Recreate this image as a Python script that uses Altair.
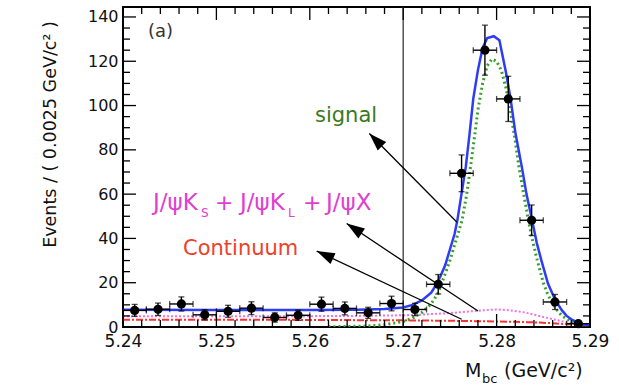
import math
import altair as alt
import pandas as pd

# ---------------- data ----------------
bin_x = [5.24125, 5.24375, 5.24625, 5.24875, 5.25125, 5.25375, 5.25625, 5.25875,
         5.26125, 5.26375, 5.26625, 5.26875, 5.27125, 5.27375, 5.27625, 5.27875,
         5.28125, 5.28375, 5.28625, 5.28875]
counts = [7.5, 8.0, 10.4, 5.5, 7.1, 8.5, 4.3, 5.3, 10.3, 8.4, 6.4, 10.6, 7.9, 19.3,
          69.4, 125.0, 103.0, 48.2, 11.3, 1.5]
errors = [2.7, 2.8, 3.2, 2.3, 2.7, 2.9, 2.1, 2.3, 3.2, 2.9, 2.5, 3.3, 2.8, 4.4,
          8.3, 11.3, 10.2, 6.9, 3.4, 1.2]
half_bin = 0.00125

total_x = [5.240, 5.250, 5.260, 5.265, 5.268, 5.270, 5.271, 5.272, 5.273, 5.2736,
           5.274, 5.2745, 5.275, 5.2755, 5.2758, 5.2762, 5.2767, 5.2771, 5.2775,
           5.278, 5.2785, 5.279, 5.2797, 5.2803, 5.281, 5.2815, 5.282, 5.2827,
           5.2832, 5.2838, 5.2843, 5.2848, 5.2855, 5.2863, 5.287, 5.2875, 5.288,
           5.2885, 5.289, 5.290]
total_y = [7.8, 7.7, 7.7, 7.8, 8.1, 8.8, 10.0, 12.0, 15.5, 19.6,
           23.0, 28.0, 35.0, 42.0, 48.2, 59.0, 72.3, 87.0, 103.0,
           116.0, 126.0, 130.5, 131.3, 129.5, 115.0, 103.0, 88.0, 72.3,
           60.0, 48.2, 38.0, 30.0, 19.6, 12.0, 7.5, 5.0, 3.5,
           2.4, 1.5, 0.5]

signal_x = [5.262, 5.266, 5.268, 5.270, 5.271, 5.272, 5.273, 5.2737, 5.2741, 5.2745,
            5.275, 5.2755, 5.2763, 5.2768, 5.2772, 5.2777, 5.278, 5.2785, 5.279,
            5.2795, 5.280, 5.2805, 5.281, 5.2815, 5.282, 5.2824, 5.2829, 5.2834,
            5.2838, 5.2843, 5.285, 5.2855, 5.286, 5.2865, 5.287, 5.288, 5.289, 5.290]
signal_y = [0.1, 0.4, 1.0, 2.5, 4.0, 6.5, 10.5, 15.0, 19.6, 24.0,
            30.0, 37.0, 48.2, 60.0, 72.0, 88.0, 98.0, 110.0, 118.0,
            121.0, 120.0, 116.0, 108.0, 97.0, 84.0, 72.0, 60.0, 48.2,
            40.0, 31.0, 20.0, 14.5, 10.5, 7.5, 5.0, 2.5, 1.0, 0.0]

jpsik_x = [5.240, 5.250, 5.260, 5.265, 5.270, 5.272, 5.275, 5.277, 5.279, 5.280,
           5.281, 5.283, 5.285, 5.287, 5.288, 5.289, 5.290]
jpsik_y = [4.8, 4.8, 4.9, 5.0, 5.3, 5.6, 6.3, 7.0, 7.7, 7.9,
           7.7, 6.6, 4.5, 2.6, 1.8, 0.9, 0.0]

cont_x = [5.240, 5.250, 5.260, 5.270, 5.275, 5.280, 5.284, 5.286, 5.288, 5.289, 5.290]
cont_y = [3.3, 3.3, 3.2, 3.0, 2.8, 2.5, 2.1, 1.7, 1.1, 0.7, 0.0]

vline_x = [5.27]

arrow_tip_x = [5.26637, 5.26395, 5.26074]
arrow_tip_y = [87.4, 46.7, 34.3]
arrow_tail_x = [5.27576, 5.27801, 5.27626]
arrow_tail_y = [47.3, 7.2, 3.5]

x_major = [5.24, 5.25, 5.26, 5.27, 5.28, 5.29]
x_minor = [5.242, 5.244, 5.246, 5.248, 5.252, 5.254, 5.256, 5.258,
           5.262, 5.264, 5.266, 5.268, 5.272, 5.274, 5.276, 5.278,
           5.282, 5.284, 5.286, 5.288]
y_major = [0, 20, 40, 60, 80, 100, 120, 140]
y_minor = [5, 10, 15, 25, 30, 35, 45, 50, 55, 65, 70, 75, 85, 90, 95,
           105, 110, 115, 125, 130, 135]

X_DOMAIN = [5.24, 5.29]
Y_DOMAIN = [0, 144.5]

# ---------------- layout ----------------
W, H = 467, 320
FONT = "DejaVu Sans"
xs = alt.Scale(domain=X_DOMAIN, nice=False, zero=False)
ys = alt.Scale(domain=Y_DOMAIN, nice=False, zero=False)

XA = alt.Axis(values=x_major, format=".2f", ticks=False, domain=False, grid=False,
              labelFont=FONT, labelFontSize=17, labelColor="#111", labelPadding=6,
              labelFlush=False, labelOverlap=False, title=None)
YA = alt.Axis(values=y_major, format="d", ticks=False, domain=False, grid=False,
              labelFont=FONT, labelFontSize=16, labelColor="#111", labelPadding=5,
              labelFlush=False, labelOverlap=False,
              title="Events / ( 0.0025 GeV/c² )", titleFont=FONT, titleFontSize=17.5,
              titleFontWeight="normal", titleColor="#111", titleAngle=270,
              titleX=-68, titleY=127, titleAlign="center", titleBaseline="alphabetic")


def X(f):
    return alt.X(f, scale=xs, axis=XA)


def Y(f):
    return alt.Y(f, scale=ys, axis=YA)


pts = pd.DataFrame({"x": bin_x, "y": counts, "e": errors})
pts["lo"] = pts["y"] - pts["e"]
pts["hi"] = pts["y"] + pts["e"]
pts["xl"] = pts["x"] - half_bin
pts["xr"] = pts["x"] + half_bin


def curve(xv, yv, color, width, dash=None):
    df = pd.DataFrame({"x": xv, "y": yv})
    kw = dict(color=color, strokeWidth=width, clip=True)
    if dash:
        kw["strokeDash"] = dash
    return alt.Chart(df).mark_line(**kw).encode(x=X("x:Q"), y=Y("y:Q"))


layers = [curve(jpsik_x, jpsik_y, "#f070ee", 2, [2, 2]),
          curve(cont_x, cont_y, "#ff3030", 2, [7, 2, 2, 2]),
          curve(signal_x, signal_y, "#3aa02c", 3, [2, 3]),
          curve(total_x, total_y, "#2f3cf5", 2.5)]

layers.append(alt.Chart(pd.DataFrame({"x": vline_x})).mark_rule(
    color="#555", strokeWidth=1.5).encode(x=X("x:Q")))

# error bars
layers.append(alt.Chart(pts).mark_rule(color="black", strokeWidth=1.4).encode(
    x=X("x:Q"), y=Y("lo:Q"), y2="hi:Q"))
layers.append(alt.Chart(pts).mark_rule(color="black", strokeWidth=1.4).encode(
    x=X("xl:Q"), x2="xr:Q", y=Y("y:Q")))
for yf in ["lo", "hi"]:
    layers.append(alt.Chart(pts).mark_tick(orient="horizontal", size=6, thickness=1.3,
                                           color="black").encode(x=X("x:Q"), y=Y(f"{yf}:Q")))
for xf in ["xl", "xr"]:
    layers.append(alt.Chart(pts).mark_tick(orient="vertical", size=6, thickness=1.3,
                                           color="black").encode(x=X(f"{xf}:Q"), y=Y("y:Q")))
layers.append(alt.Chart(pts).mark_circle(size=85, color="black", opacity=1).encode(
    x=X("x:Q"), y=Y("y:Q")))


# arrows
def px(xv):
    return (xv - X_DOMAIN[0]) / (X_DOMAIN[1] - X_DOMAIN[0]) * W


def py(yv):
    return H - (yv - Y_DOMAIN[0]) / (Y_DOMAIN[1] - Y_DOMAIN[0]) * H


angles = []
for tx, ty, bx, by in zip(arrow_tip_x, arrow_tip_y, arrow_tail_x, arrow_tail_y):
    dx = px(tx) - px(bx)
    dy = py(ty) - py(by)
    angles.append(math.degrees(math.atan2(dx, -dy)) % 360)
arr = pd.DataFrame({"tx": arrow_tip_x, "ty": arrow_tip_y, "bx": arrow_tail_x,
                    "by": arrow_tail_y, "ang": angles})
layers.append(alt.Chart(arr).mark_rule(color="black", strokeWidth=1.3).encode(
    x=X("bx:Q"), y=Y("by:Q"), x2="tx:Q", y2="ty:Q"))
layers.append(alt.Chart(arr).mark_point(shape="M0,0L0.33,1L-0.33,1Z", filled=True,
                                        size=1296, color="black", opacity=1,
                                        strokeWidth=0).encode(
    x=X("tx:Q"), y=Y("ty:Q"), angle=alt.Angle("ang:Q", scale=None)))


# ticks (inside, ROOT style)
def xticks(vals, length):
    df = pd.DataFrame({"v": vals})
    b = alt.Chart(df).mark_rule(color="black", strokeWidth=1.3).encode(
        x=X("v:Q"), y=alt.value(H), y2=alt.value(H - length))
    t = alt.Chart(df).mark_rule(color="black", strokeWidth=1.3).encode(
        x=X("v:Q"), y=alt.value(0), y2=alt.value(length))
    return [b, t]


def yticks(vals, length):
    df = pd.DataFrame({"v": vals})
    l = alt.Chart(df).mark_rule(color="black", strokeWidth=1.3).encode(
        y=Y("v:Q"), x=alt.value(0), x2=alt.value(length))
    r = alt.Chart(df).mark_rule(color="black", strokeWidth=1.3).encode(
        y=Y("v:Q"), x=alt.value(W), x2=alt.value(W - length))
    return [l, r]


layers += xticks(x_major, 13) + xticks(x_minor, 7) + yticks(y_major, 13) + yticks(y_minor, 7)

# texts
one = pd.DataFrame({"a": [0]})


def txt(s, x, y, size, color):
    return alt.Chart(one).mark_text(text=s, align="left", baseline="alphabetic",
                                    fontSize=size, color=color, font=FONT).encode(
        x=alt.value(x), y=alt.value(y))


MAG = "#e040d0"
layers += [
    txt("(a)", 25, 30, 18, "#333333"),
    txt("signal", 192, 114.5, 21, "#3a7a22"),
    txt("J/ψK", 30, 203, 23, MAG),
    txt("S", 78, 210, 12, MAG),
    txt("+", 92, 203, 22, MAG),
    txt("J/ψK", 117, 203, 23, MAG),
    txt("L", 165, 210, 12, MAG),
    txt("+", 180, 203, 22, MAG),
    txt("J/ψX", 203, 203, 23, MAG),
    txt("Continuum", 60, 248, 21, "#f0402a"),
    txt("M", 342, 370, 19, "#111111"),
    txt("bc", 359, 376, 13, "#111111"),
    txt("(GeV/c²)", 381, 370, 19, "#111111"),
]

chart = alt.layer(*layers).properties(
    width=W, height=H, autosize="none",
    padding={"left": 123, "top": 7, "right": 29, "bottom": 61},
    background="white",
).configure_view(stroke="black", strokeWidth=2)

chart.save("out.html", embed_options={"renderer": "svg", "actions": False})
